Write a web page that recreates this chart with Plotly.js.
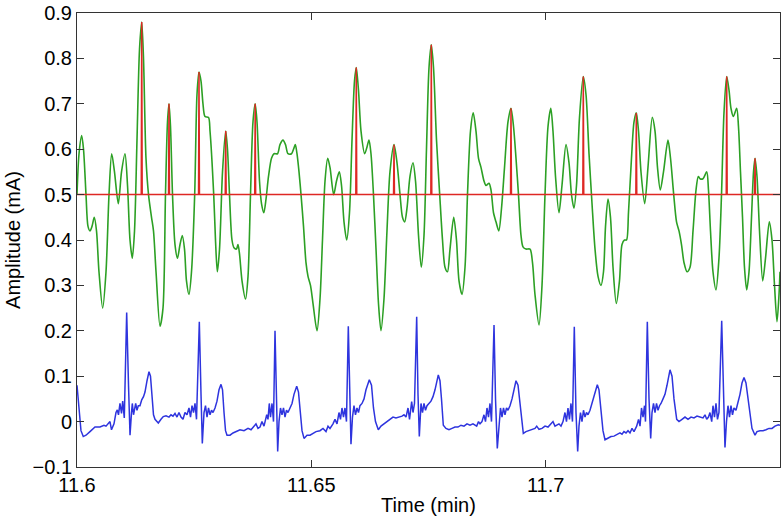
<!DOCTYPE html>
<html>
<head>
<meta charset="utf-8">
<script src="https://cdn.plot.ly/plotly-3.0.1.min.js"></script>
<style>html,body{margin:0;padding:0;background:#fff;}#chart{width:783px;height:520px;}</style>
</head>
<body>
<div id="chart"></div>
<script>
// Green signal (time in min, amplitude in mA)
var greenTime = [11.60000,11.60043,11.60100,11.60139,11.60192,11.60235,11.60277,11.60320,11.60369,11.60416,11.60469,11.60548,11.60619,11.60683,11.60740,11.60800,11.60881,11.60950,11.61024,11.61078,11.61131,11.61180,11.61227,11.61280,11.61334,11.61381,11.61419,11.61472,11.61526,11.61590,11.61632,11.61686,11.61771,11.61835,11.61888,11.61931,11.61963,11.61995,11.62038,11.62091,11.62144,11.62198,11.62247,11.62294,11.62336,11.62390,11.62443,11.62511,11.62560,11.62603,11.62646,11.62688,11.62731,11.62806,11.62838,11.62917,11.62955,11.62994,11.63041,11.63105,11.63173,11.63211,11.63254,11.63307,11.63350,11.63403,11.63435,11.63467,11.63521,11.63595,11.63649,11.63702,11.63755,11.63802,11.63841,11.63894,11.63937,11.63986,11.64033,11.64086,11.64150,11.64203,11.64278,11.64331,11.64395,11.64449,11.64502,11.64577,11.64620,11.64658,11.64694,11.64737,11.64780,11.64833,11.64886,11.64929,11.64982,11.65036,11.65121,11.65185,11.65238,11.65292,11.65349,11.65398,11.65477,11.65537,11.65597,11.65644,11.65697,11.65755,11.65814,11.65868,11.65921,11.65959,11.66006,11.66060,11.66139,11.66188,11.66230,11.66273,11.66326,11.66380,11.66433,11.66486,11.66550,11.66614,11.66678,11.66764,11.66828,11.66892,11.66945,11.66992,11.67041,11.67105,11.67169,11.67223,11.67287,11.67346,11.67404,11.67457,11.67511,11.67560,11.67607,11.67671,11.67739,11.67799,11.67852,11.67905,11.67959,11.68038,11.68097,11.68151,11.68215,11.68279,11.68332,11.68396,11.68454,11.68513,11.68567,11.68620,11.68684,11.68727,11.68791,11.68834,11.68887,11.68940,11.69000,11.69058,11.69122,11.69196,11.69260,11.69314,11.69367,11.69420,11.69474,11.69516,11.69580,11.69666,11.69719,11.69772,11.69858,11.69922,11.69986,11.70050,11.70110,11.70156,11.70210,11.70284,11.70348,11.70434,11.70498,11.70551,11.70604,11.70658,11.70722,11.70803,11.70861,11.70925,11.70989,11.71053,11.71117,11.71181,11.71234,11.71277,11.71330,11.71383,11.71437,11.71507,11.71575,11.71629,11.71682,11.71725,11.71767,11.71831,11.71885,11.71934,11.71981,11.72034,11.72113,11.72183,11.72275,11.72333,11.72386,11.72446,11.72514,11.72610,11.72664,11.72732,11.72792,11.72845,11.72898,11.72952,11.73016,11.73080,11.73144,11.73208,11.73257,11.73293,11.73357,11.73436,11.73474,11.73517,11.73570,11.73634,11.73698,11.73752,11.73805,11.73863,11.73912,11.73954,11.74004,11.74076,11.74114,11.74157,11.74200,11.74242,11.74289,11.74339,11.74392,11.74435,11.74467,11.74509,11.74563,11.74631,11.74691,11.74772,11.74829,11.74883,11.74936,11.74979,11.75000];
var greenAmp = [0.50,0.59,0.63,0.60,0.50,0.43,0.42,0.43,0.45,0.42,0.33,0.25,0.33,0.50,0.59,0.55,0.48,0.55,0.59,0.52,0.40,0.36,0.42,0.62,0.82,0.88,0.80,0.58,0.50,0.45,0.42,0.33,0.21,0.25,0.50,0.66,0.70,0.65,0.50,0.39,0.36,0.39,0.41,0.38,0.31,0.28,0.33,0.50,0.72,0.77,0.75,0.70,0.672,0.67,0.64,0.50,0.40,0.33,0.38,0.55,0.64,0.60,0.50,0.40,0.383,0.38,0.39,0.37,0.31,0.27,0.32,0.50,0.66,0.70,0.66,0.53,0.48,0.46,0.49,0.54,0.58,0.59,0.59,0.61,0.62,0.61,0.59,0.59,0.60,0.61,0.59,0.55,0.50,0.43,0.35,0.32,0.30,0.26,0.20,0.27,0.40,0.53,0.58,0.56,0.50,0.53,0.55,0.52,0.44,0.40,0.46,0.62,0.75,0.78,0.73,0.64,0.59,0.605,0.62,0.59,0.50,0.38,0.26,0.20,0.27,0.42,0.55,0.61,0.57,0.50,0.45,0.44,0.47,0.54,0.57,0.53,0.41,0.34,0.41,0.60,0.78,0.83,0.78,0.62,0.50,0.40,0.34,0.33,0.38,0.45,0.40,0.31,0.28,0.34,0.50,0.64,0.68,0.64,0.58,0.56,0.53,0.52,0.525,0.51,0.46,0.44,0.42,0.47,0.56,0.66,0.69,0.65,0.58,0.50,0.41,0.385,0.38,0.38,0.35,0.28,0.213,0.30,0.50,0.65,0.69,0.64,0.54,0.46,0.52,0.61,0.57,0.50,0.47,0.52,0.67,0.76,0.72,0.59,0.48,0.38,0.32,0.30,0.33,0.43,0.49,0.45,0.34,0.26,0.31,0.39,0.40,0.40,0.46,0.58,0.66,0.68,0.64,0.55,0.48,0.56,0.67,0.64,0.56,0.51,0.55,0.62,0.58,0.50,0.44,0.42,0.39,0.35,0.33,0.34,0.42,0.51,0.54,0.535,0.535,0.55,0.51,0.42,0.33,0.29,0.36,0.50,0.68,0.76,0.73,0.69,0.672,0.69,0.65,0.55,0.45,0.34,0.29,0.33,0.45,0.55,0.58,0.54,0.42,0.31,0.36,0.44,0.40,0.30,0.22,0.28,0.33];

// ECG signal (blue)
var ecgTime = [11.60000,11.60043,11.60085,11.60134,11.60192,11.60277,11.60384,11.60491,11.60576,11.60619,11.60668,11.60704,11.60736,11.60789,11.60832,11.60860,11.60885,11.60917,11.60950,11.60975,11.61009,11.61060,11.61099,11.61131,11.61163,11.61180,11.61206,11.61252,11.61280,11.61308,11.61344,11.61381,11.61419,11.61451,11.61494,11.61536,11.61568,11.61600,11.61632,11.61664,11.61735,11.61792,11.61841,11.61899,11.61963,11.62006,11.62048,11.62091,11.62134,11.62176,11.62219,11.62262,11.62304,11.62347,11.62390,11.62422,11.62454,11.62486,11.62518,11.62550,11.62610,11.62646,11.62674,11.62710,11.62742,11.62774,11.62806,11.62838,11.62870,11.62902,11.62945,11.62987,11.63030,11.63073,11.63105,11.63137,11.63169,11.63201,11.63265,11.63329,11.63393,11.63478,11.63563,11.63649,11.63713,11.63777,11.63819,11.63862,11.63905,11.63947,11.63990,11.64048,11.64075,11.64103,11.64129,11.64161,11.64193,11.64225,11.64257,11.64282,11.64310,11.64342,11.64374,11.64406,11.64438,11.64470,11.64502,11.64545,11.64588,11.64630,11.64688,11.64726,11.64769,11.64801,11.64844,11.64908,11.64972,11.65036,11.65100,11.65185,11.65249,11.65313,11.65356,11.65398,11.65462,11.65505,11.65548,11.65590,11.65622,11.65654,11.65686,11.65718,11.65750,11.65789,11.65825,11.65846,11.65878,11.65910,11.65942,11.65974,11.66006,11.66038,11.66081,11.66124,11.66166,11.66237,11.66284,11.66326,11.66369,11.66429,11.66486,11.66550,11.66614,11.66678,11.66742,11.66806,11.66871,11.66935,11.66977,11.67020,11.67063,11.67095,11.67141,11.67169,11.67201,11.67248,11.67276,11.67304,11.67340,11.67372,11.67404,11.67436,11.67468,11.67511,11.67553,11.67596,11.67639,11.67709,11.67745,11.67777,11.67816,11.67873,11.67937,11.68001,11.68065,11.68129,11.68193,11.68257,11.68321,11.68385,11.68449,11.68528,11.68567,11.68599,11.68641,11.68684,11.68716,11.68748,11.68780,11.68812,11.68844,11.68898,11.68930,11.68968,11.69004,11.69036,11.69068,11.69100,11.69132,11.69164,11.69196,11.69239,11.69282,11.69324,11.69367,11.69410,11.69452,11.69484,11.69523,11.69580,11.69644,11.69708,11.69772,11.69809,11.69858,11.69922,11.69986,11.70050,11.70114,11.70156,11.70199,11.70242,11.70284,11.70327,11.70370,11.70412,11.70444,11.70476,11.70508,11.70540,11.70572,11.70611,11.70647,11.70683,11.70711,11.70743,11.70775,11.70807,11.70839,11.70871,11.70903,11.70946,11.70989,11.71031,11.71102,11.71138,11.71181,11.71223,11.71266,11.71330,11.71394,11.71458,11.71522,11.71586,11.71629,11.71671,11.71714,11.71757,11.71799,11.71842,11.71885,11.71942,11.71981,11.72013,11.72045,11.72077,11.72109,11.72130,11.72169,11.72205,11.72241,11.72269,11.72301,11.72333,11.72365,11.72397,11.72429,11.72461,11.72504,11.72546,11.72589,11.72653,11.72696,11.72738,11.72796,11.72845,11.72909,11.72973,11.73037,11.73101,11.73165,11.73229,11.73293,11.73357,11.73400,11.73436,11.73474,11.73506,11.73543,11.73570,11.73602,11.73634,11.73666,11.73698,11.73756,11.73794,11.73826,11.73858,11.73890,11.73922,11.73954,11.73986,11.74018,11.74061,11.74104,11.74146,11.74189,11.74232,11.74274,11.74317,11.74360,11.74402,11.74467,11.74509,11.74573,11.74637,11.74701,11.74765,11.74829,11.74893,11.74964,11.75000];
var ecgAmp = [0.08,0.03,-0.02,-0.033,-0.03,-0.022,-0.012,-0.012,-0.008,-0.01,-0.005,0.0,-0.018,-0.005,0.02,0.026,0.015,0.04,0.018,0.045,0.008,0.24,0.08,-0.03,0.02,0.04,0.015,0.04,0.025,0.035,0.035,0.048,0.055,0.065,0.09,0.11,0.10,0.06,0.015,0.005,-0.003,0.005,0.011,0.013,0.01,0.015,0.012,0.018,0.01,0.02,0.01,0.005,0.02,0.015,0.03,0.01,0.035,0.02,0.04,0.005,0.22,0.06,-0.048,0.02,0.035,0.01,0.03,0.015,0.025,0.02,0.03,0.045,0.07,0.082,0.07,0.02,-0.02,-0.03,-0.03,-0.025,-0.022,-0.018,-0.02,-0.015,-0.018,-0.01,-0.005,-0.015,-0.012,0.0,-0.01,0.015,0.005,0.04,0.01,0.04,0.0,0.20,0.03,-0.066,0.0,0.03,0.015,0.03,0.01,0.025,0.02,0.03,0.04,0.06,0.078,0.065,0.02,-0.02,-0.037,-0.03,-0.03,-0.025,-0.022,-0.02,-0.015,-0.022,-0.01,-0.015,-0.005,0.005,-0.005,0.02,0.005,0.03,0.01,0.03,0.0,0.21,0.05,-0.05,0.01,0.035,0.015,0.03,0.02,0.035,0.04,0.05,0.07,0.092,0.08,0.03,0.0,-0.018,-0.01,-0.005,0.0,0.005,0.01,0.008,0.01,0.012,0.015,0.01,0.03,0.005,0.044,0.02,0.04,0.231,0.06,-0.033,0.04,0.02,0.04,0.025,0.035,0.04,0.045,0.055,0.07,0.103,0.09,0.05,-0.008,-0.015,-0.018,-0.015,-0.012,-0.012,-0.008,-0.01,-0.005,-0.008,-0.005,-0.01,0.0,-0.005,0.0,0.015,0.0,0.03,0.01,0.04,0.0,0.213,0.05,-0.059,0.0,0.03,0.01,0.03,0.015,0.03,0.025,0.035,0.05,0.07,0.09,0.08,0.04,0.0,-0.026,-0.022,-0.02,-0.018,-0.015,-0.01,-0.017,-0.015,-0.01,-0.012,-0.005,0.0,-0.01,-0.008,-0.005,-0.01,0.0,0.02,0.0,0.03,0.005,0.04,0.0,0.209,0.02,-0.066,-0.01,0.02,0.0,0.025,0.01,0.02,0.015,0.025,0.04,0.06,0.081,0.07,0.02,-0.02,-0.04,-0.037,-0.033,-0.032,-0.028,-0.025,-0.028,-0.022,-0.025,-0.02,-0.025,-0.015,-0.022,-0.01,0.005,-0.01,0.03,0.01,0.035,0.0,0.22,0.05,-0.037,0.02,0.04,0.02,0.04,0.025,0.035,0.04,0.05,0.06,0.08,0.114,0.10,0.05,0.005,0.0,0.005,0.01,0.005,0.01,0.008,0.012,0.01,0.008,0.015,0.005,0.01,0.02,0.0,0.035,0.01,0.04,0.005,0.02,0.222,0.03,-0.057,0.0,0.035,0.01,0.035,0.015,0.03,0.025,0.04,0.06,0.085,0.097,0.085,0.05,0.01,-0.015,-0.03,-0.022,-0.02,-0.02,-0.018,-0.015,-0.015,-0.01,-0.007,-0.008];

// Detected peaks (red) above threshold
var threshold = 0.5;
var peakTime = [11.61381,11.61963,11.62603,11.63173,11.63802,11.65959,11.66764,11.67560,11.69260,11.70803,11.71934,11.73863,11.74467];
var peakAmp  = [0.88,0.70,0.77,0.64,0.70,0.78,0.61,0.83,0.69,0.76,0.68,0.76,0.58];

var xTickVals = [11.6, 11.65, 11.7];
var xTickText = ['11.6', '11.65', '11.7'];
var xRange = [11.6, 11.75];
var yRange = [-0.1, 0.9];

// build red detection trace: threshold line with narrow spikes at each detection
var halfW = 0.0001;
var redX = [xRange[0]], redY = [threshold];
for (var i = 0; i < peakTime.length; i++) {
  redX.push(peakTime[i] - halfW, peakTime[i], peakTime[i] + halfW);
  redY.push(threshold, peakAmp[i], threshold);
}
redX.push(xRange[1]); redY.push(threshold);

var traces = [
  {x: greenTime, y: greenAmp, type: 'scatter', mode: 'lines',
   line: {color: 'rgb(44,160,36)', width: 1.6, shape: 'spline', smoothing: 0.8}, hoverinfo: 'skip'},
  {x: redX, y: redY, type: 'scatter', mode: 'lines',
   line: {color: 'rgb(222,40,36)', width: 1.5}, hoverinfo: 'skip'},
  {x: ecgTime, y: ecgAmp, type: 'scatter', mode: 'lines',
   line: {color: 'rgb(46,52,222)', width: 1.5}, hoverinfo: 'skip'}
];

var axisFont = {family: 'Liberation Sans, Arial, sans-serif', size: 20, color: '#000'};
var layout = {
  width: 783, height: 520,
  margin: {l: 77, r: 3, t: 13, b: 53},
  paper_bgcolor: '#fff', plot_bgcolor: '#fff',
  showlegend: false,
  font: axisFont,
  xaxis: {
    range: xRange, tickvals: xTickVals, ticktext: xTickText,
    showgrid: false, zeroline: false,
    showline: true, linecolor: '#333', linewidth: 1, mirror: 'ticks',
    ticks: 'inside', ticklen: 7, tickcolor: '#333', tickwidth: 1,
    tickfont: axisFont, ticklabelstandoff: 0,
    title: {text: 'Time (min)', font: axisFont, standoff: 2}
  },
  yaxis: {
    range: yRange, dtick: 0.1, tick0: 0,
    showgrid: false, zeroline: false,
    showline: true, linecolor: '#333', linewidth: 1, mirror: 'ticks',
    ticks: 'inside', ticklen: 7, tickcolor: '#333', tickwidth: 1,
    tickfont: axisFont,
    title: {text: 'Amplitude (mA)', font: axisFont, standoff: 6}
  }
};

Plotly.newPlot('chart', traces, layout, {staticPlot: true, displayModeBar: false});
</script>
</body>
</html>
